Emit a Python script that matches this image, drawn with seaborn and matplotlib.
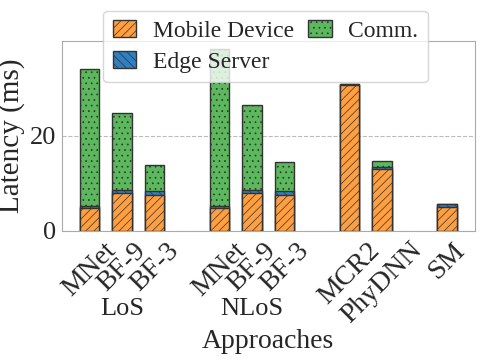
import numpy as np
import pandas as pd
import matplotlib
matplotlib.use("Agg")
import matplotlib.pyplot as plt
import seaborn as sns
from matplotlib.patches import Patch

# categories in plotting order, 'gap' keys are empty slots between groups
keys = ['LoS-MNet', 'LoS-BF-9', 'LoS-BF-3', 'gap1',
        'NLoS-MNet', 'NLoS-BF-9', 'NLoS-BF-3', 'gap2',
        'MCR2', 'PhyDNN', 'gap3', 'SM']
tick_labels = ['MNet', 'BF-9', 'BF-3', '',
               'MNet', 'BF-9', 'BF-3', '',
               'MCR2', 'PhyDNN', '', 'SM']

bar_keys = ['LoS-MNet', 'LoS-BF-9', 'LoS-BF-3',
            'NLoS-MNet', 'NLoS-BF-9', 'NLoS-BF-3',
            'MCR2', 'PhyDNN', 'SM']
mobile = [4.8, 8.0, 7.5, 4.8, 8.0, 7.5, 30.7, 13.0, 5.1]
edge = [0.4, 0.6, 1.0, 0.4, 0.6, 1.0, 0.15, 0.5, 0.5]
comm = [28.9, 16.2, 5.4, 33.1, 17.9, 6.1, 0.0, 1.3, 0.0]

group_names = ['LoS', 'NLoS']
group_centers = ['LoS-BF-9', 'NLoS-BF-9']

df = pd.DataFrame({'key': bar_keys, 'mobile': mobile, 'edge': edge, 'comm': comm})
df['me'] = df['mobile'] + df['edge']
df['total'] = df['me'] + df['comm']

sns.set_style("white")
plt.rcParams['font.family'] = ['Liberation Serif', 'DejaVu Serif']
plt.rcParams['hatch.linewidth'] = 0.5

c_mobile = '#ff9f40'
c_edge = '#2f7fc1'
c_comm = '#5cb85c'
ec = '#333333'

fig = plt.figure(figsize=(4.83, 3.63), dpi=100)
ax = fig.add_axes([0.128, 0.364, 0.855, 0.523])

common = dict(data=df, x='key', order=keys, width=0.6, saturation=1,
              errorbar=None, edgecolor=ec, linewidth=1.0, ax=ax)
sns.barplot(y='total', color=c_comm, hatch='...', **common)
sns.barplot(y='me', color=c_edge, hatch='\\\\\\\\', **common)
sns.barplot(y='mobile', color=c_mobile, hatch='////', **common)

ax.set_xlim(-0.86, len(keys) - 1 + 0.86)
ax.set_ylim(0, 40)
ax.set_yticks([0, 20])
ax.yaxis.grid(True, linestyle='--', color='#bbbbbb', linewidth=0.8)
ax.set_axisbelow(True)
for s in ax.spines.values():
    s.set_color('#aaaaaa')

pos = [i for i, k in enumerate(keys) if not k.startswith('gap')]
ax.set_xticks(pos)
ax.set_xticklabels([tick_labels[i] for i in pos], rotation=45, ha='center',
                   fontsize=20)
ax.tick_params(axis='y', labelsize=19, length=3, color='#aaaaaa', pad=1)
ax.tick_params(axis='x', length=4, color='#aaaaaa', pad=1)
ax.set_xlabel('')
ax.set_ylabel('Latency (ms)', fontsize=21)
ax.yaxis.set_label_coords(-0.088, 0.5)

trans = ax.get_xaxis_transform()
for name, ck in zip(group_names, group_centers):
    ax.text(keys.index(ck), -0.41, name, transform=trans, ha='center',
            va='center', fontsize=19)
ax.text(0.5, -0.585, 'Approaches', transform=ax.transAxes, ha='center',
        va='center', fontsize=20)

handles = [Patch(facecolor=c_mobile, edgecolor=ec, hatch='////', label='Mobile Device'),
           Patch(facecolor=c_edge, edgecolor=ec, hatch='\\\\\\\\', label='Edge Server'),
           Patch(facecolor=c_comm, edgecolor=ec, hatch='...', label='Comm.')]
ax.legend(handles=handles, loc='upper center', bbox_to_anchor=(0.493, 1.16),
          borderaxespad=0, ncol=2, fontsize=17, frameon=True,
          handlelength=1.0, handleheight=0.72, handletextpad=0.7,
          columnspacing=0.6, labelspacing=0.4, borderpad=0.4)

fig.savefig('out.png', dpi=100)
